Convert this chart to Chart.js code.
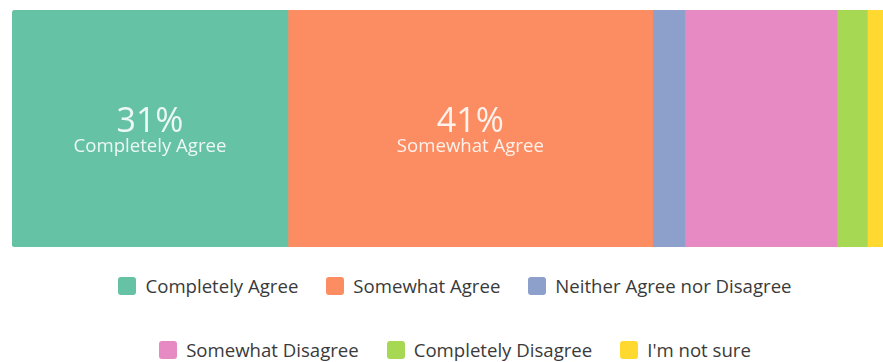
<!DOCTYPE html>
<html>
<head>
<meta charset="utf-8">
<script src="https://cdn.jsdelivr.net/npm/chart.js@4"></script>
<style>
  html, body { margin: 0; padding: 0; background: #fff; overflow: hidden; }
  body { width: 883px; height: 362px; position: relative; }
  #wrap { position: absolute; left: 0; top: 0; width: 910px; height: 257px; }
  #legend { position: absolute; left: 0; top: 277px; width: 910px; font-family: "Open Sans", sans-serif; font-size: 18.6px; color: #3a3a3a; }
  .row { display: flex; justify-content: center; height: 18px; line-height: 18px; margin-bottom: 46px; }
  .item { display: flex; align-items: center; margin: 0 14px; white-space: nowrap; }
  .box { width: 18px; height: 18px; border-radius: 3px; margin-right: 9px; }
</style>
</head>
<body>
<div id="wrap"><canvas id="chart"></canvas></div>
<div id="legend"></div>
<script>
// Antworten (Anteil in %)
const labels = ['Completely Agree', 'Somewhat Agree', 'Neither Agree nor Disagree',
                'Somewhat Disagree', 'Completely Disagree', "I'm not sure"];
const values = [31, 41, 3.6, 17.1, 3.4, 3.9];
const colors = ['#66c2a5', '#fc8d62', '#8da0cb', '#e78ac3', '#a6d854', '#ffd92f'];

const datasets = labels.map((lab, i) => ({
    label: lab,
    data: [values[i]],
    backgroundColor: colors[i],
    borderWidth: 0,
    borderSkipped: false,
    borderRadius: i === 0 ? { topLeft: 4, bottomLeft: 4 } : (i === labels.length - 1 ? { topRight: 4, bottomRight: 4 } : 0),
    barPercentage: 1,
    categoryPercentage: 1
}));

// Beschriftung nur in den grossen Segmenten
const segmentLabels = {
    id: 'segmentLabels',
    afterDatasetsDraw(chart) {
        const ctx = chart.ctx;
        ctx.save();
        ctx.textAlign = 'center';
        ctx.textBaseline = 'alphabetic';
        ctx.fillStyle = 'rgba(255,255,255,0.88)';
        chart.data.datasets.forEach((ds, i) => {
            const v = ds.data[0];
            if (v < 25) return;
            const bar = chart.getDatasetMeta(i).data[0];
            const cx = (bar.x + bar.base) / 2;
            const cy = bar.y;
            ctx.font = '34px "Open Sans", sans-serif';
            ctx.fillText(Math.round(v) + '%', cx, cy + 3);
            ctx.font = '18.6px "Open Sans", sans-serif';
            ctx.fillText(ds.label, cx, cy + 23.5);
        });
        ctx.restore();
    }
};

new Chart(document.getElementById('chart'), {
    type: 'bar',
    data: { labels: [''], datasets: datasets },
    options: {
        indexAxis: 'y',
        responsive: true,
        maintainAspectRatio: false,
        animation: false,
        layout: { padding: { top: 10, bottom: 10, left: 12, right: 8 } },
        plugins: { legend: { display: false }, tooltip: { enabled: false } },
        scales: {
            x: { stacked: true, display: false, min: 0, max: 100 },
            y: { stacked: true, display: false }
        }
    },
    plugins: [segmentLabels]
});

// Legende in zwei Zeilen
const legend = document.getElementById('legend');
[[0, 1, 2], [3, 4, 5]].forEach(idx => {
    const row = document.createElement('div');
    row.className = 'row';
    idx.forEach(i => {
        const item = document.createElement('div');
        item.className = 'item';
        item.innerHTML = '<span class="box" style="background:' + colors[i] + '"></span>';
        item.appendChild(document.createTextNode(labels[i]));
        row.appendChild(item);
    });
    legend.appendChild(row);
});
</script>
</body>
</html>
